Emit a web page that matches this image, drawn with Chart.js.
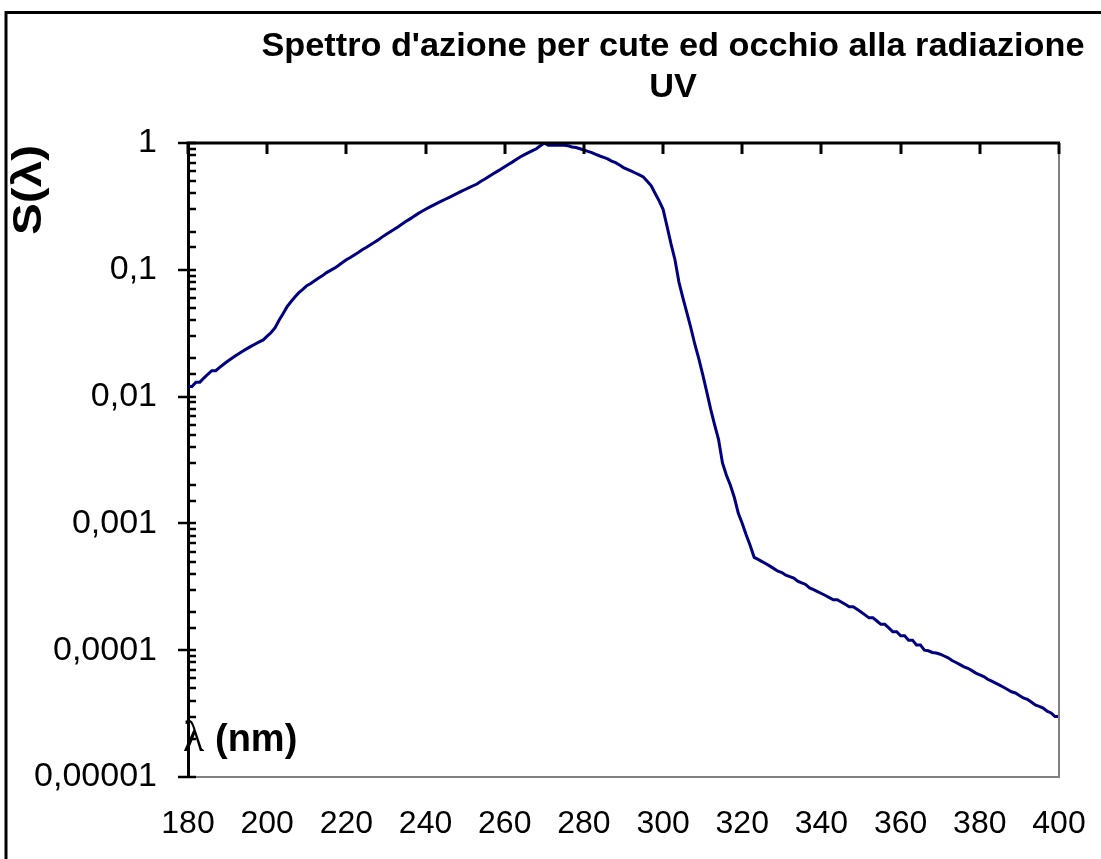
<!DOCTYPE html>
<html><head><meta charset="utf-8">
<script src="https://cdn.jsdelivr.net/npm/chart.js@4.4.1/dist/chart.umd.min.js"></script>
<style>html,body{margin:0;padding:0;background:#fff}#wrap{width:1101px;height:859px;position:relative}</style>
</head><body><div id="wrap"><canvas id="c" width="1101" height="859"></canvas></div>
<script>
const titleLines = ["Spettro d'azione per cute ed occhio alla radiazione", "UV"];
const yAxisTitle = "S(\u03bb)";
const xAxisSymbol = "\u03bb";
const xAxisUnit = "(nm)";

const wavelengths = [
 180,181,182,183,184,185,186,187,188,189,
 190,191,192,193,194,195,196,197,198,199,
 200,201,202,203,204,205,206,207,208,209,
 210,211,212,213,214,215,216,217,218,219,
 220,221,222,223,224,225,226,227,228,229,
 230,231,232,233,234,235,236,237,238,239,
 240,241,242,243,244,245,246,247,248,249,
 250,251,252,253,254,255,256,257,258,259,
 260,261,262,263,264,265,266,267,268,269,
 270,271,272,273,274,275,276,277,278,279,
 280,281,282,283,284,285,286,287,288,289,
 290,291,292,293,294,295,296,297,298,299,
 300,301,302,303,304,305,306,307,308,309,
 310,311,312,313,314,315,316,317,318,319,
 320,321,322,323,324,325,326,327,328,329,
 330,331,332,333,334,335,336,337,338,339,
 340,341,342,343,344,345,346,347,348,349,
 350,351,352,353,354,355,356,357,358,359,
 360,361,362,363,364,365,366,367,368,369,
 370,371,372,373,374,375,376,377,378,379,
 380,381,382,383,384,385,386,387,388,389,
 390,391,392,393,394,395,396,397,398,399,
 400];

const sValues = [
 0.012,0.012,0.013,0.013,0.014,0.015,0.016,0.016,0.017,0.018,
 0.019,0.020,0.021,0.022,0.023,0.024,0.025,0.026,0.027,0.028,
 0.030,0.032,0.035,0.040,0.045,0.051,0.056,0.061,0.066,0.070,
 0.075,0.078,0.082,0.086,0.090,0.095,0.099,0.103,0.108,0.114,
 0.120,0.125,0.131,0.137,0.144,0.150,0.157,0.164,0.172,0.181,
 0.190,0.199,0.208,0.218,0.229,0.240,0.251,0.263,0.276,0.288,
 0.300,0.312,0.324,0.336,0.348,0.360,0.373,0.386,0.400,0.415,
 0.430,0.445,0.460,0.475,0.500,0.520,0.545,0.570,0.595,0.620,
 0.650,0.680,0.710,0.745,0.780,0.810,0.840,0.870,0.900,0.950,
 1.000,0.960,0.960,0.960,0.960,0.960,0.950,0.930,0.920,0.900,
 0.880,0.860,0.840,0.815,0.790,0.770,0.750,0.720,0.700,0.670,
 0.640,0.620,0.600,0.580,0.560,0.540,0.500,0.460,0.400,0.350,
 0.300,0.220,0.160,0.120,0.080,0.060,0.046,0.035,0.026,0.020,
 0.015,0.011,0.008,0.006,0.0046,0.0030,0.0024,0.0020,0.0016,0.0012,
 0.0010,0.00081,0.00067,0.00054,0.00052,0.00050,0.00048,0.00046,0.00044,0.00042,
 0.00041,0.00039,0.00038,0.00037,0.00035,0.00034,0.00033,0.00031,0.00030,0.00029,
 0.00028,0.00027,0.00026,0.00025,0.00025,0.00024,0.00023,0.00022,0.00022,0.00021,
 0.00020,0.00019,0.00018,0.00018,0.00017,0.00016,0.00016,0.00015,0.00014,0.00014,
 0.00013,0.00013,0.00012,0.00012,0.00011,0.00011,0.00010,0.000099,0.000096,0.000095,
 0.000093,0.000090,0.000087,0.000083,0.000080,0.000077,0.000074,0.000072,0.000069,0.000066,
 0.000064,0.000062,0.000059,0.000057,0.000055,0.000053,0.000051,0.000049,0.000047,0.000046,
 0.000044,0.000042,0.000041,0.000039,0.000037,0.000036,0.000035,0.000033,0.000032,0.000030,
 0.000030];

const xTickValues = [180,200,220,240,260,280,300,320,340,360,380,400];
const yTickValues = [1,0.1,0.01,0.001,0.0001,0.00001];
const yTickLabels = ["1","0,1","0,01","0,001","0,0001","0,00001"];

const FONT = "'Liberation Sans', Arial, sans-serif";

function yLabelFor(v){
  for(let i=0;i<yTickValues.length;i++){
    if(Math.abs(v-yTickValues[i]) < yTickValues[i]*1e-6) return yTickLabels[i];
  }
  return '';
}

const decorPlugin = {
  id:'decor',
  beforeDraw(chart){
    const ctx = chart.ctx;
    ctx.save();
    ctx.fillStyle='#fff';
    ctx.fillRect(0,0,chart.width,chart.height);
    ctx.strokeStyle='#000'; ctx.lineWidth=3;
    ctx.beginPath();
    ctx.moveTo(6,chart.height+5); ctx.lineTo(6,12.5); ctx.lineTo(chart.width+5,12.5);
    ctx.stroke();
    ctx.restore();
  },
  afterDraw(chart){
    const ctx = chart.ctx;
    const a = chart.chartArea;
    const xs = chart.scales.x, ys = chart.scales.y;
    ctx.save();
    ctx.strokeStyle='#808080'; ctx.lineWidth=2;
    ctx.beginPath(); ctx.moveTo(a.right, a.top); ctx.lineTo(a.right, a.bottom+1); ctx.stroke();
    ctx.strokeStyle='#000'; ctx.lineWidth=3;
    ctx.beginPath(); ctx.moveTo(a.left-1.5, a.top); ctx.lineTo(a.right+1, a.top); ctx.stroke();
    ctx.lineWidth=3;
    xTickValues.forEach(v=>{
      const px = Math.round(xs.getPixelForValue(v));
      ctx.beginPath(); ctx.moveTo(px, a.top); ctx.lineTo(px, a.top+11); ctx.stroke();
    });
    ctx.lineWidth=2.5;
    ys.ticks.forEach(t=>{
      const py = Math.round(ys.getPixelForValue(t.value));
      const major = yLabelFor(t.value) !== '';
      ctx.beginPath();
      ctx.moveTo(major ? a.left-10 : a.left, py);
      ctx.lineTo(a.left+8, py);
      ctx.stroke();
    });
    // title
    ctx.fillStyle='#000';
    ctx.font = "bold 34px " + FONT;
    ctx.textAlign='center'; ctx.textBaseline='alphabetic';
    const w = ctx.measureText(titleLines[0]).width;
    const sx = 823 / w;
    ctx.save();
    ctx.translate(673, 0); ctx.scale(sx, 1);
    ctx.fillText(titleLines[0], 0, 56);
    ctx.fillText(titleLines[1], 0, 97);
    ctx.restore();
    // y axis title
    ctx.save();
    ctx.translate(30, 190); ctx.rotate(-Math.PI/2);
    ctx.font = "bold 40px " + FONT;
    ctx.textAlign='center'; ctx.textBaseline='middle';
    const wy = ctx.measureText(yAxisTitle).width;
    ctx.scale(90/wy, 1);
    ctx.fillText(yAxisTitle, 0, 0);
    ctx.restore();
    // x axis title inside plot
    ctx.textAlign='left'; ctx.textBaseline='middle';
    ctx.font = "44px 'Liberation Serif', serif";
    ctx.fillText(xAxisSymbol, 183, 739);
    ctx.font = "bold 38px " + FONT;
    ctx.fillText(xAxisUnit, 215, 741);
    ctx.restore();
  }
};

new Chart(document.getElementById('c'), {
  type:'line',
  data:{
    datasets:[{
      label:'S(\u03bb)',
      data: wavelengths.map((w,i)=>({x:w, y:sValues[i]})),
      borderColor:'#000080',
      borderWidth:3,
      pointRadius:0,
      tension:0,
      fill:false
    }]
  },
  options:{
    responsive:false,
    animation:false,
    devicePixelRatio:1,
    layout:{padding:{left:0, top:143, right:42, bottom:0}},
    plugins:{legend:{display:false}, title:{display:false}, tooltip:{enabled:false}},
    scales:{
      x:{
        type:'linear', position:'bottom', min:180, max:400,
        afterFit(s){ s.height = 82; s.paddingLeft = 0; s.paddingRight = 0; },
        afterBuildTicks(s){ s.ticks = xTickValues.map(v=>({value:v})); },
        ticks:{ font:{family:FONT, size:32}, color:'#000', padding:28, maxRotation:0, autoSkip:false },
        grid:{ display:false, drawTicks:false },
        border:{ display:true, color:'#808080', width:2 }
      },
      y:{
        type:'logarithmic', position:'left', min:0.00001, max:1,
        afterFit(s){ s.width = 188; s.paddingTop = 0; s.paddingBottom = 0; },
        ticks:{ font:{family:FONT, size:34}, color:'#000', padding:31, autoSkip:false,
          callback:(v)=>yLabelFor(v) },
        grid:{ display:false, drawTicks:false },
        border:{ display:true, color:'#000', width:3 }
      }
    }
  },
  plugins:[decorPlugin]
});
</script>
</body></html>
